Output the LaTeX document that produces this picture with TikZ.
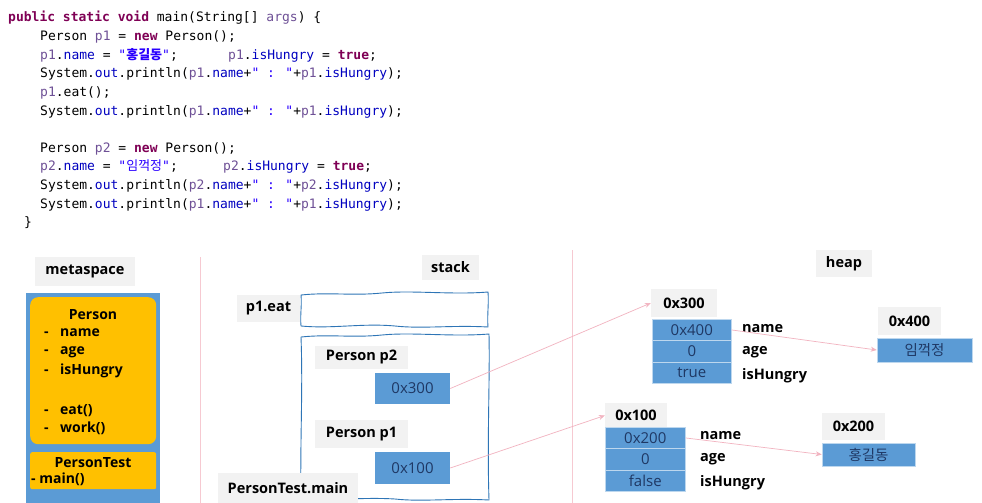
\documentclass[tikz,border=0pt]{standalone}
\usepackage{fontspec}
\setmainfont{Open Sans}
\newfontfamily\codefont{DejaVu Sans Mono}
\newfontfamily\cjk{Noto Sans CJK KR}
\usetikzlibrary{arrows.meta}
\definecolor{kwc}{HTML}{7F0055}
\definecolor{varc}{HTML}{6E5096}
\definecolor{fldc}{HTML}{0000C0}
\definecolor{strc}{HTML}{2A00FF}
\definecolor{cellblue}{HTML}{5B9BD5}
\definecolor{cellline}{HTML}{BDD7EE}
\definecolor{celltext}{HTML}{1F3864}
\definecolor{lblgray}{HTML}{F2F2F2}
\definecolor{framec}{HTML}{2E75B6}
\definecolor{ptrc}{HTML}{F2B3C0}
\definecolor{divc}{HTML}{F6C9D1}
\definecolor{metay}{HTML}{FFC000}
\newcommand\kwd[1]{\textcolor{kwc}{\bfseries #1}}
\newcommand\vrb[1]{\textcolor{varc}{#1}}
\newcommand\fld[1]{\textcolor{fldc}{#1}}
\newcommand\strg[1]{\textcolor{strc}{#1}}
\tikzset{
  codeline/.style={anchor=base west, inner sep=0pt, font=\codefont\fontsize{13}{15}\selectfont},
  lbl/.style={fill=lblgray, inner sep=0pt, font=\bfseries\fontsize{14.5}{16}\selectfont},
  cell/.style={fill=cellblue, draw=cellline, line width=0.6pt, inner sep=0pt, text=celltext, font=\fontsize{15}{17}\selectfont},
  kcell/.style={cell, font=\cjk\fontsize{14.5}{17}\selectfont},
  fieldname/.style={anchor=west, inner sep=0pt, font=\bfseries\fontsize{14.5}{16}\selectfont},
  metatext/.style={anchor=west, inner sep=0pt, font=\bfseries\fontsize{14}{16}\selectfont},
  wavy/.style={draw=framec, line width=0.9pt, line join=round},
  ptr/.style={draw=ptrc, line width=0.7pt, -{Stealth[length=6pt,width=5pt]}},
  divider/.style={draw=divc, line width=0.8pt}
}
\begin{document}
\begin{tikzpicture}[x=1pt,y=-1pt]
\useasboundingbox (0,0) rectangle (982,503);
\fill[white] (0,0) rectangle (982,503);
% ---------------- code ----------------
\node[codeline] (c1) at (8,22) {\kwd{public} \kwd{static} \kwd{void} main(String[] \vrb{args}) \{};
\node[codeline] (c2) at (40,40.6) {Person \vrb{p1} = \kwd{new} Person();};
\node[codeline] (c3a) at (40,59.2) {\vrb{p1}.\fld{name} = \strg{"{\cjk\bfseries 홍길동}"};};
\node[codeline] (c3b) at (228,59.2) {\vrb{p1}.\fld{isHungry} = \kwd{true};};
\node[codeline] (c4) at (40,77.8) {System.\fld{out}.println(\vrb{p1}.\fld{name}+\strg{" : "}+\vrb{p1}.\fld{isHungry});};
\node[codeline] (c5) at (40,96.4) {\vrb{p1}.eat();};
\node[codeline] (c6) at (40,115) {System.\fld{out}.println(\vrb{p1}.\fld{name}+\strg{" : "}+\vrb{p1}.\fld{isHungry});};
\node[codeline] (c7) at (40,152.2) {Person \vrb{p2} = \kwd{new} Person();};
\node[codeline] (c8a) at (40,170.8) {\vrb{p2}.\fld{name} = \strg{"{\cjk 임꺽정}"};};
\node[codeline] (c8b) at (223,170.8) {\vrb{p2}.\fld{isHungry} = \kwd{true};};
\node[codeline] (c9) at (40,189.4) {System.\fld{out}.println(\vrb{p2}.\fld{name}+\strg{" : "}+\vrb{p2}.\fld{isHungry});};
\node[codeline] (c10) at (40,208) {System.\fld{out}.println(\vrb{p1}.\fld{name}+\strg{" : "}+\vrb{p1}.\fld{isHungry});};
\node[codeline] (c11) at (24,226.6) {\}};
% ---------------- dividers ----------------
\coordinate (d1t) at (200,257); \coordinate (d1b) at (200,503);
\coordinate (d2t) at (572,250); \coordinate (d2b) at (572,503);
\draw[divider] (d1t) -- (d1b);
\draw[divider] (d2t) -- (d2b);
% ---------------- metaspace ----------------
\node[lbl, minimum width=100pt, minimum height=29pt] (metaL) at (85,271.5) {metaspace};
\node[fill=cellblue, inner sep=0pt, anchor=north west, minimum width=134pt, minimum height=210pt] (metabox) at (26,293) {};
\node[fill=metay, rounded corners=8pt, inner sep=0pt, anchor=north west, minimum width=126pt, minimum height=147pt] (personbox) at (30,297) {};
\node[fill=metay, rounded corners=2pt, inner sep=0pt, anchor=north west, minimum width=126pt, minimum height=37pt] (ptestbox) at (30,452) {};
\node[inner sep=0pt, font=\bfseries\fontsize{14}{16}\selectfont] (pname) at (93,315) {Person};
\node[metatext] (m1) at (44,333) {\makebox[16pt][l]{-}name};
\node[metatext] (m2) at (44,352) {\makebox[16pt][l]{-}age};
\node[metatext] (m3) at (44,371) {\makebox[16pt][l]{-}isHungry};
\node[metatext] (m4) at (44,411) {\makebox[16pt][l]{-}eat()};
\node[metatext] (m5) at (44,428) {\makebox[16pt][l]{-}work()};
\node[inner sep=0pt, font=\bfseries\fontsize{14}{16}\selectfont] (ptname) at (93,463) {PersonTest};
\node[metatext] (m6) at (31,479.5) {- main()};
% ---------------- stack ----------------
\node[lbl, minimum width=57pt, minimum height=25pt] (stackL) at (450.5,267) {stack};
% p1.eat frame (hand-drawn look)
\draw[wavy] (301,295) .. controls (330,292) and (352,296) .. (382,293)
  .. controls (412,290) and (452,295) .. (488,292)
  .. controls (489,303) and (487,316) .. (488,327)
  .. controls (452,325) and (422,329) .. (395,326)
  .. controls (362,323) and (332,329) .. (301,326)
  .. controls (300,315) and (302,305) .. cycle;
% PersonTest.main frame
\draw[wavy] (301,337) .. controls (330,334) and (352,338) .. (382,335)
  .. controls (412,332) and (452,337) .. (489,334)
  .. controls (490,380) and (487,440) .. (489,500)
  .. controls (452,498) and (422,502) .. (395,499)
  .. controls (362,497) and (332,501) .. (301,499)
  .. controls (300,440) and (303,390) .. cycle;
\node[lbl, minimum width=63pt, minimum height=27pt] (eatL) at (268.5,308.5) {p1.eat};
\node[lbl, minimum width=93pt, minimum height=23pt] (p2L) at (361.5,357) {Person p2};
\node[cell, draw=none, minimum width=75pt, minimum height=31pt] (s300) at (412.5,388.5) {0x300};
\node[lbl, minimum width=93pt, minimum height=28pt] (p1L) at (361.5,434) {Person p1};
\node[cell, draw=none, minimum width=75pt, minimum height=32pt] (s100) at (412.5,468) {0x100};
\node[lbl, minimum width=140pt, minimum height=30pt] (mainL) at (288,488) {PersonTest.main};
% ---------------- heap ----------------
\node[lbl, minimum width=56pt, minimum height=27pt] (heapL) at (844,263.5) {heap};
\node[lbl, minimum width=66pt, minimum height=28pt] (h300L) at (684,303) {0x300};
\node[cell, minimum width=79pt, minimum height=21.3pt, anchor=north west] (r300a) at (652,319) {0x400};
\node[cell, minimum width=79pt, minimum height=21.3pt, anchor=north west] (r300b) at (652,340.3) {0};
\node[cell, minimum width=79pt, minimum height=21.3pt, anchor=north west] (r300c) at (652,361.6) {true};
\node[fieldname] (f300a) at (742,329) {name};
\node[fieldname] (f300b) at (742,352) {age};
\node[fieldname] (f300c) at (742,375.5) {isHungry};
\node[lbl, minimum width=63pt, minimum height=28pt] (h400L) at (909.5,321) {0x400};
\node[kcell, minimum width=95pt, minimum height=24pt] (k400) at (924.5,350) {임꺽정};
\node[lbl, minimum width=62pt, minimum height=25pt] (h100L) at (636,415.5) {0x100};
\node[cell, minimum width=80pt, minimum height=21.3pt, anchor=north west] (r100a) at (605,427) {0x200};
\node[cell, minimum width=80pt, minimum height=21.3pt, anchor=north west] (r100b) at (605,448.3) {0};
\node[cell, minimum width=80pt, minimum height=21.3pt, anchor=north west] (r100c) at (605,469.6) {false};
\node[fieldname] (f100a) at (700,436) {name};
\node[fieldname] (f100b) at (700,459) {age};
\node[fieldname] (f100c) at (700,482.5) {isHungry};
\node[lbl, minimum width=63pt, minimum height=27pt] (h200L) at (853.5,426.5) {0x200};
\node[kcell, minimum width=93pt, minimum height=23pt] (k200) at (868.5,454.5) {홍길동};
% ---------------- pointers ----------------
\draw[ptr] (s300.east) -- (h300L.west);
\draw[ptr] (s100.east) -- (h100L.west);
\draw[ptr] (r300a.east) -- (k400.west);
\draw[ptr] (r100a.east) -- (k200.west);
\end{tikzpicture}
\end{document}
